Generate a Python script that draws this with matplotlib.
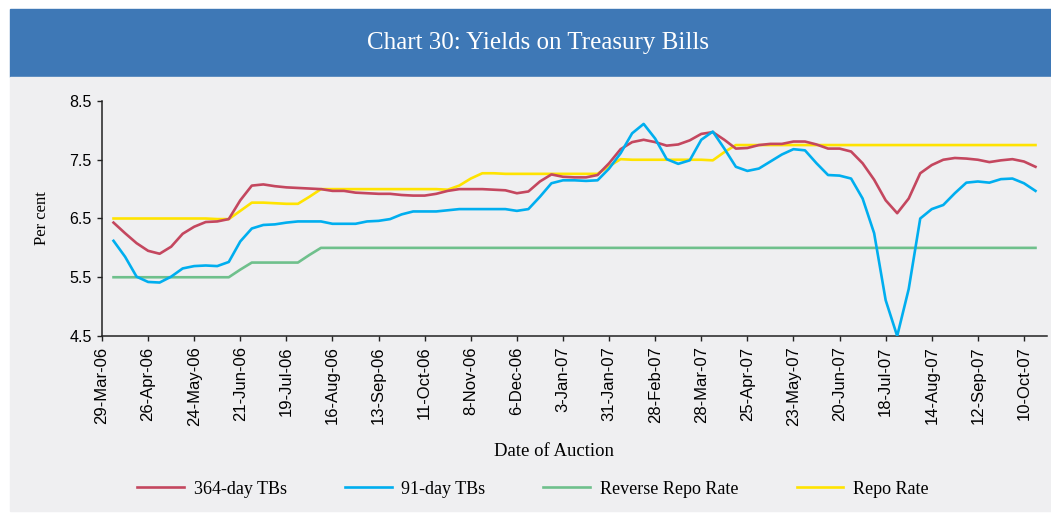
import numpy as np
import matplotlib
matplotlib.use("Agg")
import matplotlib.pyplot as plt
from matplotlib.patches import Rectangle

# weekly auction values, 5-Apr-06 .. 17-Oct-07
tb364 = [6.43, 6.25, 6.08, 5.95, 5.90, 6.02, 6.24, 6.36, 6.44, 6.45,
         6.49, 6.81, 7.06, 7.08, 7.05, 7.03, 7.02, 7.01, 7.00, 6.97,
         6.97, 6.94, 6.93, 6.92, 6.92, 6.90, 6.89, 6.89, 6.92, 6.97,
         7.00, 7.00, 7.00, 6.99, 6.98, 6.93, 6.96, 7.13, 7.25, 7.21,
         7.20, 7.20, 7.24, 7.44, 7.68, 7.80, 7.84, 7.80, 7.74, 7.76,
         7.83, 7.94, 7.97, 7.84, 7.69, 7.70, 7.75, 7.77, 7.77, 7.81,
         7.81, 7.76, 7.69, 7.69, 7.64, 7.44, 7.16, 6.81, 6.59, 6.84,
         7.27, 7.41, 7.50, 7.53, 7.52, 7.50, 7.46, 7.49, 7.51, 7.47,
         7.38]
tb91 = [6.12, 5.85, 5.51, 5.42, 5.41, 5.51, 5.65, 5.69, 5.70, 5.69,
        5.76, 6.11, 6.33, 6.39, 6.40, 6.43, 6.45, 6.45, 6.45, 6.41,
        6.41, 6.41, 6.45, 6.46, 6.49, 6.57, 6.62, 6.62, 6.62, 6.64,
        6.66, 6.66, 6.66, 6.66, 6.66, 6.63, 6.66, 6.87, 7.10, 7.15,
        7.15, 7.14, 7.15, 7.35, 7.61, 7.95, 8.11, 7.86, 7.51, 7.43,
        7.49, 7.84, 7.98, 7.69, 7.38, 7.31, 7.35, 7.47, 7.59, 7.68,
        7.66, 7.44, 7.24, 7.23, 7.18, 6.84, 6.25, 5.11, 4.50, 5.30,
        6.50, 6.66, 6.73, 6.93, 7.11, 7.13, 7.11, 7.17, 7.18, 7.10,
        6.97]
reverse_repo = [5.50] * 11 + [5.63] + [5.75] * 5 + [5.88] + [6.00] * 63
repo = ([6.50] * 9 + [6.49, 6.49, 6.63, 6.77, 6.77, 6.76, 6.75, 6.75, 6.87]
        + [7.00] * 11 + [6.99, 7.06, 7.18, 7.27, 7.27] + [7.26] * 9
        + [7.39, 7.51] + [7.50] * 7 + [7.49, 7.63] + [7.75] * 27)

tick_labels = ["29-Mar-06", "26-Apr-06", "24-May-06", "21-Jun-06", "19-Jul-06",
               "16-Aug-06", "13-Sep-06", "11-Oct-06", "8-Nov-06", "6-Dec-06",
               "3-Jan-07", "31-Jan-07", "28-Feb-07", "28-Mar-07", "25-Apr-07",
               "23-May-07", "20-Jun-07", "18-Jul-07", "14-Aug-07", "12-Sep-07",
               "10-Oct-07"]

weeks = np.arange(1, len(tb364) + 1)

W, H = 1051, 513
fig = plt.figure(figsize=(W / 100, H / 100), dpi=100)
fig.patch.set_facecolor("white")

panel_col = "#efeff1"
# title banner and grey panel, kept behind the axes
fig.patches.append(Rectangle((10 / W, 1 - 77 / H), 1041 / W, 68 / H,
                             transform=fig.transFigure, color="#3e78b6", zorder=-2))
fig.patches.append(Rectangle((10 / W, 1 - 511 / H), 1041 / W, 434 / H,
                             transform=fig.transFigure, color=panel_col, zorder=-2))
fig.text(538 / W, 1 - 43 / H, "Chart 30: Yields on Treasury Bills", color="white",
         ha="center", va="center", fontsize=18, family="Liberation Serif")

ax = fig.add_axes([102 / W, 1 - 336 / H, 945 / W, 235 / H])
ax.set_zorder(2)
ax.set_facecolor("none")

lw = 1.9
ax.plot(weeks, repo, color="#ffe300", lw=lw, label="Repo Rate", zorder=2)
ax.plot(weeks, reverse_repo, color="#6fc08c", lw=lw, label="Reverse Repo Rate", zorder=2)
ax.plot(weeks, tb364, color="#c4475f", lw=lw, label="364-day TBs", zorder=3,
        solid_joinstyle="round")
ax.plot(weeks, tb91, color="#00aeef", lw=lw, label="91-day TBs", zorder=4,
        solid_joinstyle="round")

ax.set_xlim(0, 82)
ax.set_ylim(4.5, 8.5)
ax.set_yticks([4.5, 5.5, 6.5, 7.5, 8.5])
ax.set_yticklabels(["4.5", "5.5", "6.5", "7.5", "8.5"], family="Liberation Sans", fontsize=11.5)
ax.set_xticks(np.arange(0, 4 * len(tick_labels), 4))
ax.set_xticklabels(tick_labels, rotation=90, family="Liberation Sans", fontsize=12)
ax.tick_params(axis="both", direction="out", length=3.5, width=1, color="#222222", pad=4)
for s in ["top", "right"]:
    ax.spines[s].set_visible(False)
for s in ["left", "bottom"]:
    ax.spines[s].set_color("#222222")
    ax.spines[s].set_linewidth(1.1)

fig.text(42 / W, 1 - 218 / H, "Per cent", rotation=90, ha="center", va="center",
         fontsize=12, family="Liberation Serif")
fig.text(554 / W, 1 - 452 / H, "Date of Auction", ha="center", va="center",
         fontsize=13.5, family="Liberation Serif")

h, l = ax.get_legend_handles_labels()
order = [2, 3, 1, 0]
fig.legend([h[i] for i in order], [l[i] for i in order], loc="center",
           bbox_to_anchor=(533 / W, 1 - 489 / H), ncol=4, frameon=False,
           prop={"family": "Liberation Serif", "size": 13},
           handlelength=2.6, handletextpad=0.55, columnspacing=3.2)

fig.savefig("out.png", dpi=100)
